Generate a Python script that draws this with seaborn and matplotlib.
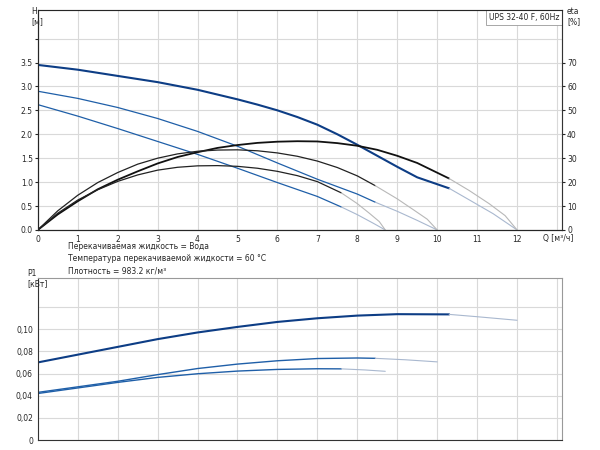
import numpy as np
import pandas as pd
import seaborn as sns
import matplotlib.pyplot as plt

# Q-H curves: dark (operating) part, then light extension to zero head
q_h1 = [0, 1, 2, 3, 4, 5, 5.5, 6, 6.5, 7, 7.5, 8, 8.5, 9, 9.5, 10.3]
h1 = [3.45, 3.35, 3.22, 3.09, 2.93, 2.73, 2.62, 2.5, 2.36, 2.2, 2.0, 1.78, 1.55, 1.32, 1.1, 0.87]
q_h1x = [10.3, 10.8, 11.4, 12]
h1x = [0.87, 0.63, 0.34, 0.0]
q_h2 = [0, 1, 2, 3, 4, 5, 6, 7, 8, 8.45]
h2 = [2.9, 2.75, 2.56, 2.33, 2.06, 1.75, 1.4, 1.06, 0.75, 0.58]
q_h2x = [8.45, 9, 9.5, 10]
h2x = [0.58, 0.39, 0.2, 0.0]
q_h3 = [0, 1, 2, 3, 4, 5, 6, 7, 7.6]
h3 = [2.62, 2.38, 2.12, 1.85, 1.58, 1.29, 0.99, 0.7, 0.48]
q_h3x = [7.6, 8.0, 8.4, 8.7]
h3x = [0.48, 0.32, 0.14, 0.0]

# efficiency curves [%]
q_e1 = [0, 0.5, 1, 1.5, 2, 2.5, 3, 3.5, 4, 4.5, 5, 5.5, 6, 6.5, 7, 7.5, 8, 8.5, 9, 9.5, 10.3]
e1 = [0, 6.5, 12, 17, 21, 24.5, 27.8, 30.5, 32.5, 34.3, 35.5, 36.4, 36.9, 37.1, 37, 36.3, 35.2, 33.5, 31, 28, 21.5]
q_e1x = [10.3, 10.8, 11.3, 11.7, 12]
e1x = [21.5, 16.5, 11, 6, 0]
q_e2 = [0, 0.5, 1, 1.5, 2, 2.5, 3, 3.5, 4, 4.5, 5, 5.5, 6, 6.5, 7, 7.5, 8, 8.45]
e2 = [0, 8, 14.5, 19.8, 24, 27.5, 30, 31.8, 32.9, 33.4, 33.5, 33.1, 32.2, 30.8, 28.8, 26.1, 22.6, 18.5]
q_e2x = [8.45, 9, 9.4, 9.75, 10]
e2x = [18.5, 13, 8.5, 4.5, 0]
q_e3 = [0, 0.5, 1, 1.5, 2, 2.5, 3, 3.5, 4, 4.5, 5, 5.5, 6, 6.5, 7, 7.6]
e3 = [0, 7, 12.5, 16.8, 20.3, 23, 25, 26.2, 26.8, 26.9, 26.6, 25.8, 24.5, 22.7, 20.2, 15.5]
q_e3x = [7.6, 8.0, 8.3, 8.55, 8.7]
e3x = [15.5, 11, 7, 3.5, 0]

# power P1 [kW]
q_p1 = [0, 1, 2, 3, 4, 5, 6, 7, 8, 9, 10.3]
p1 = [0.070, 0.077, 0.084, 0.091, 0.097, 0.102, 0.1065, 0.1098, 0.1122, 0.1135, 0.1133]
q_p1x = [10.3, 11, 12]
p1x = [0.1133, 0.1112, 0.108]
q_p2 = [0, 1, 2, 3, 4, 5, 6, 7, 8, 8.45]
p2 = [0.043, 0.048, 0.053, 0.059, 0.0645, 0.0685, 0.0715, 0.0735, 0.074, 0.0737]
q_p2x = [8.45, 9.2, 10]
p2x = [0.0737, 0.0724, 0.0705]
q_p3 = [0, 1, 2, 3, 4, 5, 6, 7, 7.6]
p3 = [0.042, 0.047, 0.052, 0.0565, 0.0598, 0.0622, 0.0637, 0.0643, 0.0642]
q_p3x = [7.6, 8.2, 8.7]
p3x = [0.0642, 0.0632, 0.062]

x_ticks = list(range(0, 13))
h_ticks = [0, 0.5, 1, 1.5, 2, 2.5, 3, 3.5]
eta_ticks = [0, 10, 20, 30, 40, 50, 60, 70]
p_ticks = [0, 0.02, 0.04, 0.06, 0.08, 0.10]
p_labels = ["0", "0,02", "0,04", "0,06", "0,08", "0,10"]

BLUE = "#1f5fa8"
DBLUE = "#0d3d85"
LIGHT = "#a9b8cf"
GREY = "#b8b8b8"

sns.set_style("white")
plt.rcParams["font.family"] = ["DejaVu Sans"]
plt.rcParams["font.size"] = 5.5

fig = plt.figure(figsize=(6, 4.5), dpi=100)
ax = fig.add_axes([0.063, 0.489, 0.874, 0.489])
ax2 = ax.twinx()
axp = fig.add_axes([0.063, 0.022, 0.874, 0.36])


def draw(a, x, y, color, lw):
    sns.lineplot(x=x, y=y, ax=a, color=color, linewidth=lw, sort=False)


draw(ax, q_h1, h1, DBLUE, 1.5)
draw(ax, q_h1x, h1x, LIGHT, 0.8)
draw(ax, q_h2, h2, BLUE, 0.9)
draw(ax, q_h2x, h2x, LIGHT, 0.8)
draw(ax, q_h3, h3, BLUE, 0.9)
draw(ax, q_h3x, h3x, LIGHT, 0.8)
draw(ax2, q_e1, e1, "#111111", 1.3)
draw(ax2, q_e1x, e1x, GREY, 0.8)
draw(ax2, q_e2, e2, "#222222", 0.9)
draw(ax2, q_e2x, e2x, GREY, 0.8)
draw(ax2, q_e3, e3, "#222222", 0.9)
draw(ax2, q_e3x, e3x, GREY, 0.8)
draw(axp, q_p1, p1, DBLUE, 1.5)
draw(axp, q_p1x, p1x, LIGHT, 0.8)
draw(axp, q_p2, p2, BLUE, 1.0)
draw(axp, q_p2x, p2x, LIGHT, 0.8)
draw(axp, q_p3, p3, BLUE, 1.0)
draw(axp, q_p3x, p3x, LIGHT, 0.8)

for a in (ax, axp):
    a.set_xlim(0, 13.13)
    a.set_xticks(x_ticks + [13])
    a.grid(True, color="#d9d9d9", linewidth=0.8)
    a.set_axisbelow(True)
    for s in a.spines.values():
        s.set_color("#999999")
    a.spines["left"].set_color("#333333")
    a.spines["bottom"].set_color("#333333")
    a.tick_params(length=2, pad=1.5)

ax.set_ylim(0, 4.6)
ax.set_yticks(h_ticks + [4.0])
ax.set_yticklabels([f"{t:.1f}" for t in h_ticks] + [""])
ax.set_xticklabels([str(t) for t in x_ticks] + [""])
ax2.set_ylim(0, 92)
ax2.set_yticks(eta_ticks)
ax2.tick_params(length=2, pad=1.5)
ax2.spines["right"].set_color("#333333")
ax2.set_ylabel("")
ax.set_ylabel("")

axp.set_ylim(0, 0.146)
axp.set_yticks(p_ticks + [0.12])
axp.set_yticklabels(p_labels + [""])
axp.set_xticklabels([])

fig.text(0.052, 0.985, "H\n[м]", ha="left", va="top", fontsize=5.5)
fig.text(0.945, 0.985, "eta\n[%]", ha="left", va="top", fontsize=5.5)
fig.text(0.905, 0.47, "Q [м³/ч]", ha="left", va="center", fontsize=5.5)
fig.text(0.045, 0.402, "P1\n[кВт]", ha="left", va="top", fontsize=5.5)
ax.text(0.995, 0.985, "UPS 32-40 F, 60Hz", transform=ax.transAxes, ha="right", va="top",
        fontsize=5.5, bbox=dict(facecolor="white", edgecolor="#999999", linewidth=0.6, pad=2))
fig.text(0.113, 0.462, "Перекачиваемая жидкость = Вода\n"
         "Температура перекачиваемой жидкости = 60 °C\n"
         "Плотность = 983.2 кг/м³", ha="left", va="top", fontsize=5.5, linespacing=1.45)

fig.savefig("out.png", dpi=100)
